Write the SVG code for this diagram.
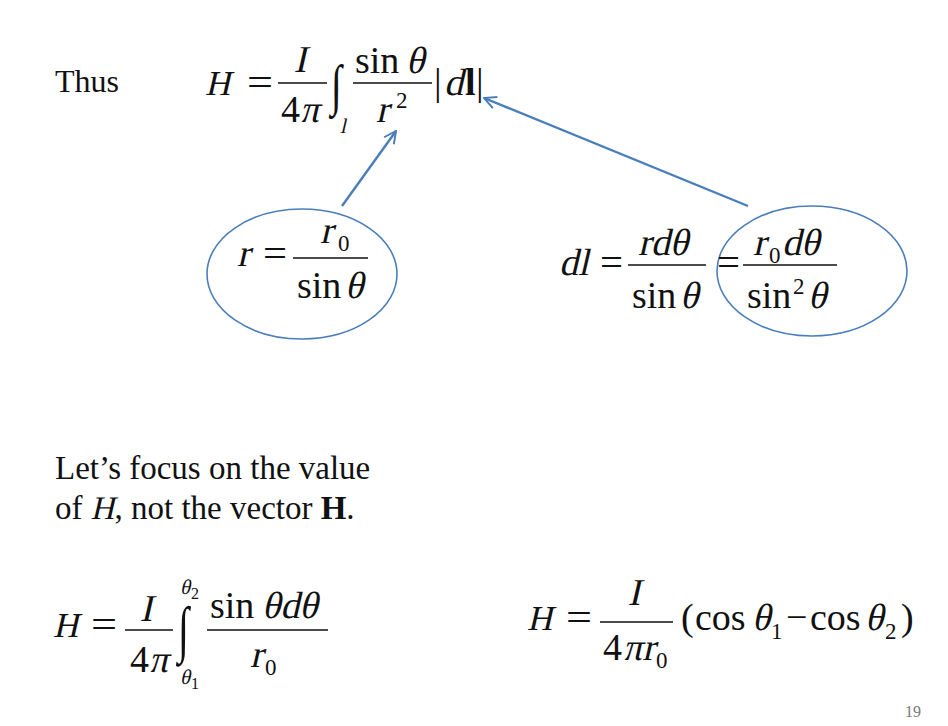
<svg xmlns="http://www.w3.org/2000/svg" width="948" height="726" viewBox="0 0 948 726">
<defs>
<style>
.t{font-family:"Liberation Serif","Times New Roman",serif;fill:#111;font-style:normal;}
.m{font-size:38px;}
.h{font-size:35px;}
.s{font-size:23px;}
.xs{font-size:16px;}
.sm{font-size:21px;}
.p{font-size:33px;}
.b{font-weight:bold;}
.bar{stroke:#111;stroke-width:1.6;}
.ell{fill:none;stroke:#4a7ebb;stroke-width:1.6;}
.con{stroke:#4a7ebb;stroke-width:2.4;fill:none;}
</style>
<marker id="ah" viewBox="0 0 12 12" refX="11" refY="6" markerWidth="6" markerHeight="6" orient="auto" markerUnits="strokeWidth">
<path d="M1,1 L11,6 L1,11" fill="none" stroke="#4a7ebb" stroke-width="1.6"/>
</marker>
</defs>
<rect width="948" height="726" fill="#ffffff"/>

<g id="thus">
<text class="t" x="55" y="92" font-size="32">Thus</text>
</g>

<g id="eq-top">
<g transform="translate(205,95) skewX(-13)"><text class="t h">H</text></g>
<text class="t m" x="247" y="95" textLength="26" lengthAdjust="spacingAndGlyphs">=</text>
<line class="bar" x1="278" y1="83" x2="327" y2="83"/>
<g transform="translate(300,72) skewX(-13)"><text class="t m" text-anchor="middle">I</text></g>
<text class="t m" x="281" y="122">4</text>
<g transform="translate(300,122) skewX(-13)"><text class="t m">π</text></g>
<text class="t" font-size="40" transform="translate(331,104) scale(1,1.4)">∫</text>
<g transform="translate(340,133) skewX(-13)"><text class="t sm">l</text></g>
<line class="bar" x1="353" y1="83" x2="432" y2="83"/>
<text class="t m" x="355" y="73">sin</text>
<g transform="translate(406,73) skewX(-13)"><text class="t m">θ</text></g>
<g transform="translate(376,122) skewX(-13)"><text class="t m">r</text></g>
<text class="t s" x="396" y="108">2</text>
<text class="t m" x="434" y="95">|</text>
<g transform="translate(444,95) skewX(-13)"><text class="t m">d</text></g>
<text class="t m b" x="465" y="95">l</text>
<text class="t m" x="476" y="95">|</text>
</g>

<g id="node-r">
<ellipse class="ell" cx="302" cy="274" rx="95" ry="65"/>
<g transform="translate(237,266) skewX(-13)"><text class="t m">r</text></g>
<text class="t m" x="263" y="266" textLength="24" lengthAdjust="spacingAndGlyphs">=</text>
<line class="bar" x1="293" y1="258" x2="368" y2="258"/>
<g transform="translate(320,243) skewX(-13)"><text class="t m">r</text></g>
<text class="t s" x="338" y="251">0</text>
<text class="t m" x="297" y="298">sin</text>
<g transform="translate(345,298) skewX(-13)"><text class="t m">θ</text></g>
</g>

<g id="node-dl">
<ellipse class="ell" cx="812" cy="271" rx="95" ry="65"/>
<g transform="translate(559,275) skewX(-13)"><text class="t m">dl</text></g>
<text class="t m" x="600" y="275" textLength="23" lengthAdjust="spacingAndGlyphs">=</text>
<line class="bar" x1="628" y1="265" x2="706" y2="265"/>
<g transform="translate(638,255) skewX(-13)"><text class="t m">rdθ</text></g>
<text class="t m" x="632" y="308">sin</text>
<g transform="translate(680,308) skewX(-13)"><text class="t m">θ</text></g>
<text class="t m" x="717" y="275" textLength="23" lengthAdjust="spacingAndGlyphs">=</text>
<line class="bar" x1="743" y1="265" x2="837" y2="265"/>
<g transform="translate(753,255) skewX(-13)"><text class="t m">r</text></g>
<text class="t s" x="769" y="263">0</text>
<g transform="translate(782,255) skewX(-13)"><text class="t m">dθ</text></g>
<text class="t m" x="747" y="308">sin</text>
<text class="t s" x="793" y="294">2</text>
<g transform="translate(808,308) skewX(-13)"><text class="t m">θ</text></g>
</g>

<g id="connectors">
<line class="con" x1="342" y1="206" x2="396" y2="131" marker-end="url(#ah)"/>
<line class="con" x1="748" y1="206" x2="484" y2="98" marker-end="url(#ah)"/>
</g>

<g id="text-focus">
<text class="t p" x="55" y="479">Let’s focus on the value</text>
<text class="t p" x="55" y="519">of</text>
<g transform="translate(90.5,519) skewX(-13)"><text class="t p">H</text></g>
<text class="t p" x="114.5" y="519">, not the vector <tspan class="b">H</tspan>.</text>
</g>

<g id="eq-bottom-left">
<g transform="translate(53,637) skewX(-13)"><text class="t h">H</text></g>
<text class="t m" x="91" y="637" textLength="26" lengthAdjust="spacingAndGlyphs">=</text>
<line class="bar" x1="125" y1="630" x2="173" y2="630"/>
<g transform="translate(146,621) skewX(-13)"><text class="t m" text-anchor="middle">I</text></g>
<text class="t m" x="130" y="672">4</text>
<g transform="translate(149,672) skewX(-13)"><text class="t m">π</text></g>
<text class="t" font-size="40" transform="translate(178,650) scale(1,1.55)">∫</text>
<g transform="translate(180,594) skewX(-13)"><text class="t sm">θ</text></g>
<text class="t xs" x="191" y="599">2</text>
<g transform="translate(180,684) skewX(-13)"><text class="t sm">θ</text></g>
<text class="t xs" x="191" y="689">1</text>
<line class="bar" x1="207" y1="630" x2="328" y2="630"/>
<text class="t m" x="210" y="618">sin</text>
<g transform="translate(262,618) skewX(-13)"><text class="t m">θdθ</text></g>
<g transform="translate(250,667) skewX(-13)"><text class="t m">r</text></g>
<text class="t s" x="265" y="675">0</text>
</g>

<g id="eq-bottom-right">
<g transform="translate(527,630) skewX(-13)"><text class="t h">H</text></g>
<text class="t m" x="566" y="630" textLength="26" lengthAdjust="spacingAndGlyphs">=</text>
<line class="bar" x1="600" y1="622" x2="673" y2="622"/>
<g transform="translate(634,605) skewX(-13)"><text class="t m" text-anchor="middle">I</text></g>
<text class="t m" x="603" y="660">4</text>
<g transform="translate(623,660) skewX(-13)"><text class="t m">πr</text></g>
<text class="t s" x="656" y="668">0</text>
<text class="t m" x="681" y="630">(</text>
<text class="t m" x="695" y="630">cos</text>
<g transform="translate(752,630) skewX(-13)"><text class="t m">θ</text></g>
<text class="t s" x="771" y="639">1</text>
<text class="t m" x="786" y="630">−</text>
<text class="t m" x="810" y="630">cos</text>
<g transform="translate(865,630) skewX(-13)"><text class="t m">θ</text></g>
<text class="t s" x="885" y="639">2</text>
<text class="t m" x="901" y="630">)</text>
</g>

<g id="page-number">
<text class="t" x="905" y="717" font-size="16" style="fill:#777">19</text>
</g>
</svg>
